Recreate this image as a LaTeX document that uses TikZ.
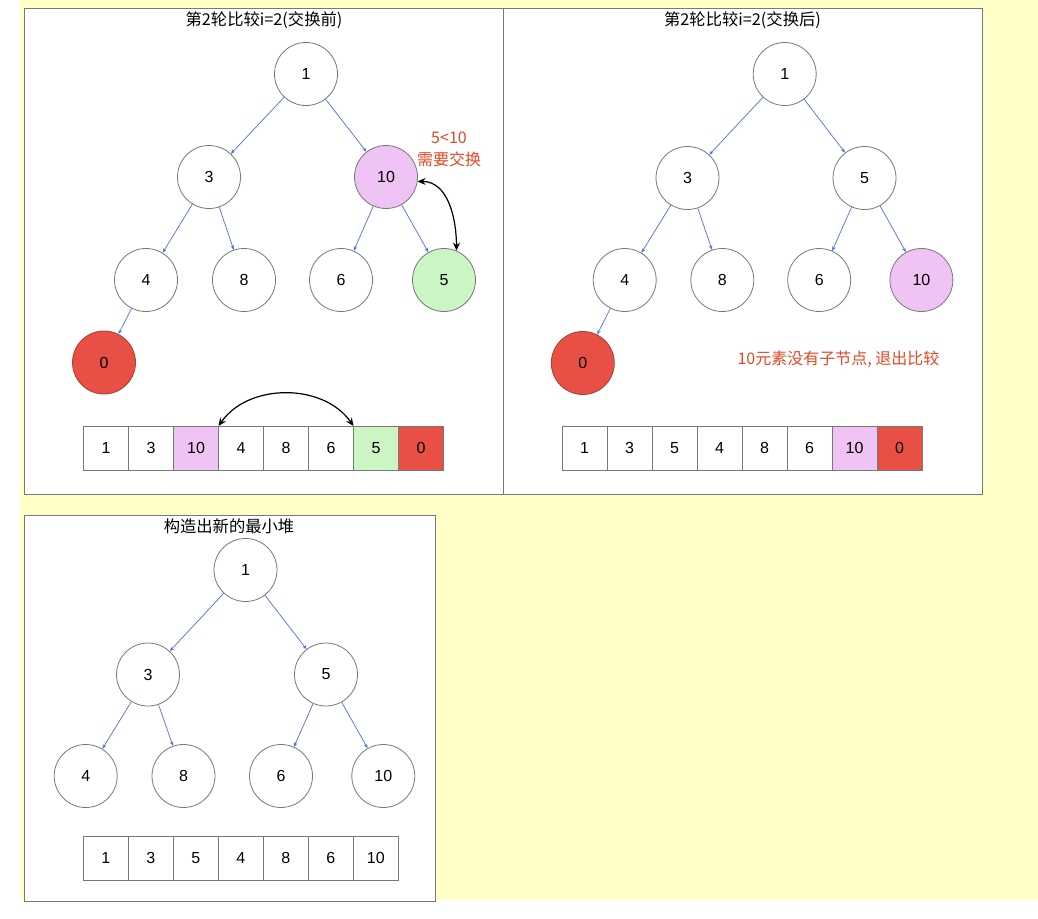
\documentclass[tikz,border=0pt]{standalone}
\usepackage{fontspec}
\setmainfont{Liberation Sans}
\newfontfamily\cjk{Noto Sans CJK SC}
\usetikzlibrary{arrows.meta}
\definecolor{bgyellow}{RGB}{255,255,200}
\definecolor{pinkf}{RGB}{240,195,245}
\definecolor{greenf}{RGB}{204,245,196}
\definecolor{redf}{RGB}{232,80,70}
\definecolor{redline}{RGB}{170,60,50}
\definecolor{redtext}{RGB}{228,72,36}
\definecolor{edgeblue}{RGB}{80,110,230}
\definecolor{bordergray}{RGB}{120,120,120}
\begin{document}
\begin{tikzpicture}[x=1pt,y=-1pt,
 hnode/.style={circle,draw=bordergray,line width=0.8pt,minimum size=63pt,inner sep=0pt,font=\fontsize{16}{19}\selectfont,fill=white},
 pinknode/.style={hnode,fill=pinkf},
 greennode/.style={hnode,fill=greenf},
 rednode/.style={hnode,fill=redf,draw=redline},
 cell/.style={rectangle,draw=bordergray,line width=0.8pt,minimum height=44pt,inner sep=0pt,outer sep=0pt,font=\fontsize{16}{19}\selectfont,fill=white},
 cellA/.style={cell,minimum width=45pt},
 tedge/.style={draw=edgeblue,line width=0.7pt,-{Stealth[length=4.5pt,width=3.5pt]}},
 swaparrow/.style={draw=black,line width=1.2pt,{Stealth[length=8pt,width=7pt]}-{Stealth[length=8pt,width=7pt]}},
 panel/.style={draw=bordergray,line width=1pt,fill=white},
 ttl/.style={font=\cjk\fontsize{16.3}{19}\selectfont},
 note/.style={font=\cjk\fontsize{16}{22}\selectfont,text=redtext,align=center}]

\useasboundingbox (0,0) rectangle (1038,918);
\fill[bgyellow] (20,0) rectangle (1038,900);
\draw[panel] (24,8) rectangle (503,494.5);
\draw[panel] (503,8) rectangle (982,494.5);
\draw[panel] (24,515) rectangle (435,901);

% ---------- Panel 1 ----------
\node[ttl] (t1) at (264,20) {第2轮比较i=2(交换前)};
\node[hnode] (p1r) at (306,74) {1};
\node[hnode] (p1a) at (209,177) {3};
\node[pinknode] (p1b) at (386,177) {10};
\node[hnode] (p1c) at (146,280) {4};
\node[hnode] (p1d) at (244,280) {8};
\node[hnode] (p1e) at (341,280) {6};
\node[greennode] (p1f) at (444,280) {5};
\node[rednode] (p1g) at (104,362.5) {0};
\draw[tedge] (p1r) -- (p1a);
\draw[tedge] (p1r) -- (p1b);
\draw[tedge] (p1a) -- (p1c);
\draw[tedge] (p1a) -- (p1d);
\draw[tedge] (p1b) -- (p1e);
\draw[tedge] (p1b) -- (p1f);
\draw[tedge] (p1c) -- (p1g);
\node[note] (n1) at (449,149) {5<10\\需要交换};
\draw[swaparrow] (p1b.-8) to[out=0,in=90] (p1f.67);

\node[cellA] (a1) at (106,448) {1};
\node[cellA] (a2) at (151,448) {3};
\node[cellA,fill=pinkf] (a3) at (196,448) {10};
\node[cellA] (a4) at (241,448) {4};
\node[cellA] (a5) at (286,448) {8};
\node[cellA] (a6) at (331,448) {6};
\node[cellA,fill=greenf] (a7) at (376,448) {5};
\node[cellA,fill=redf] (a8) at (421,448) {0};
\draw[swaparrow] (a4.north west) to[bend left=55] (a7.north west);

% ---------- Panel 2 ----------
\node[ttl] (t2) at (742.5,20) {第2轮比较i=2(交换后)};
\node[hnode] (p2r) at (784.7,74) {1};
\node[hnode] (p2a) at (687.5,178) {3};
\node[hnode] (p2b) at (864.5,178) {5};
\node[hnode] (p2c) at (624.7,280) {4};
\node[hnode] (p2d) at (722.3,280) {8};
\node[hnode] (p2e) at (819.2,280) {6};
\node[pinknode] (p2f) at (921.4,280) {10};
\node[rednode] (p2g) at (582.8,363) {0};
\draw[tedge] (p2r) -- (p2a);
\draw[tedge] (p2r) -- (p2b);
\draw[tedge] (p2a) -- (p2c);
\draw[tedge] (p2a) -- (p2d);
\draw[tedge] (p2b) -- (p2e);
\draw[tedge] (p2b) -- (p2f);
\draw[tedge] (p2c) -- (p2g);
\node[note] (n2) at (838.4,359) {10元素没有子节点, 退出比较};

\node[cellA] (b1) at (584.5,448) {1};
\node[cellA] (b2) at (629.5,448) {3};
\node[cellA] (b3) at (674.5,448) {5};
\node[cellA] (b4) at (719.5,448) {4};
\node[cellA] (b5) at (764.5,448) {8};
\node[cellA] (b6) at (809.5,448) {6};
\node[cellA,fill=pinkf] (b7) at (854.5,448) {10};
\node[cellA,fill=redf] (b8) at (899.5,448) {0};

% ---------- Panel 3 ----------
\node[ttl] (t3) at (229,526) {构造出新的最小堆};
\node[hnode] (p3r) at (245.5,570) {1};
\node[hnode] (p3a) at (148,674.5) {3};
\node[hnode] (p3b) at (326,674.5) {5};
\node[hnode] (p3c) at (85.7,776) {4};
\node[hnode] (p3d) at (183.5,776) {8};
\node[hnode] (p3e) at (281,776) {6};
\node[hnode] (p3f) at (383.3,776) {10};
\draw[tedge] (p3r) -- (p3a);
\draw[tedge] (p3r) -- (p3b);
\draw[tedge] (p3a) -- (p3c);
\draw[tedge] (p3a) -- (p3d);
\draw[tedge] (p3b) -- (p3e);
\draw[tedge] (p3b) -- (p3f);

\node[cellA] (c1) at (105.8,858) {1};
\node[cellA] (c2) at (150.8,858) {3};
\node[cellA] (c3) at (195.8,858) {5};
\node[cellA] (c4) at (240.8,858) {4};
\node[cellA] (c5) at (285.8,858) {8};
\node[cellA] (c6) at (330.8,858) {6};
\node[cellA] (c7) at (375.8,858) {10};
\end{tikzpicture}
\end{document}
